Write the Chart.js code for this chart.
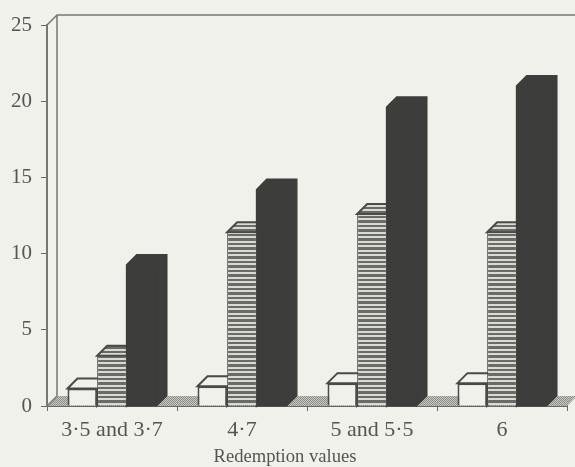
<!DOCTYPE html>
<html>
<head>
<meta charset="utf-8">
<script src="https://cdn.jsdelivr.net/npm/chart.js@4"></script>
<style>
    html, body { margin: 0; padding: 0; background: #eff1ea; }
    #wrap { width: 575px; height: 467px; }
</style>
</head>
<body>
<div id="wrap"><canvas id="chart"></canvas></div>
<script>
// Valores
const categories = ['3·5 and 3·7', '4·7', '5 and 5·5', '6'];
const whiteValues = [1.15, 1.3, 1.5, 1.5];
const stripedValues = [3.3, 11.4, 12.6, 11.4];
const darkValues = [9.25, 14.2, 19.6, 21.0];
const axisTitle = 'Redemption values';

const PAPER = '#eff1ea';
const INK = '#4a4a46';
const DARK = '#3d3d3b';
const TEXT = '#555551';
const DEPTH_X = 10;
const DEPTH_Y = 10;
const SERIF = '"Liberation Serif", serif';

function stripePattern() {
    const c = document.createElement('canvas');
    c.width = 4;
    c.height = 9;
    const g = c.getContext('2d');
    g.fillStyle = '#d9dad3';
    g.fillRect(0, 0, 4, 9);
    g.fillStyle = '#6a6a66';
    g.fillRect(0, 0, 4, 2);
    g.fillRect(0, 4, 4, 3);
    return g.createPattern(c, 'repeat');
}

function floorPattern() {
    const c = document.createElement('canvas');
    c.width = 2;
    c.height = 2;
    const g = c.getContext('2d');
    g.fillStyle = '#c6c7c0';
    g.fillRect(0, 0, 2, 2);
    g.fillStyle = '#8e8f8a';
    g.fillRect(0, 0, 1, 1);
    g.fillRect(1, 1, 1, 1);
    return g.createPattern(c, 'repeat');
}

// Pared de fondo, suelo y caras laterales de las barras
const depthPlugin = {
    id: 'depth',
    beforeDatasetsDraw(chart) {
        const { ctx, chartArea: a } = chart;
        ctx.save();

        ctx.fillStyle = floorPattern();
        ctx.beginPath();
        ctx.moveTo(a.left, a.bottom);
        ctx.lineTo(a.left + DEPTH_X, a.bottom - DEPTH_Y);
        ctx.lineTo(a.right + DEPTH_X, a.bottom - DEPTH_Y);
        ctx.lineTo(a.right, a.bottom);
        ctx.closePath();
        ctx.fill();

        ctx.strokeStyle = '#777772';
        ctx.lineWidth = 1.5;
        ctx.beginPath();
        ctx.moveTo(a.left, a.top);
        ctx.lineTo(a.left + DEPTH_X, a.top - DEPTH_Y);
        ctx.lineTo(a.right + DEPTH_X, a.top - DEPTH_Y);
        ctx.moveTo(a.left + DEPTH_X, a.top - DEPTH_Y);
        ctx.lineTo(a.left + DEPTH_X, a.bottom - DEPTH_Y);
        ctx.moveTo(a.left, a.bottom);
        ctx.lineTo(a.left + DEPTH_X, a.bottom - DEPTH_Y);
        ctx.stroke();

        chart.data.datasets.forEach((ds, i) => {
            chart.getDatasetMeta(i).data.forEach(bar => {
                const left = bar.x - bar.width / 2;
                const right = bar.x + bar.width / 2;
                ctx.beginPath();
                ctx.moveTo(left, bar.y);
                ctx.lineTo(left + DEPTH_X, bar.y - DEPTH_Y);
                ctx.lineTo(right + DEPTH_X, bar.y - DEPTH_Y);
                ctx.lineTo(right + DEPTH_X, bar.base - DEPTH_Y);
                ctx.lineTo(right, bar.base);
                if (i === 2) {
                    // la barra oscura es una silueta sólida
                    ctx.lineTo(left, bar.base);
                } else {
                    ctx.lineTo(right, bar.y);
                }
                ctx.closePath();
                ctx.fillStyle = i === 2 ? DARK : (i === 1 ? stripePattern() : PAPER);
                ctx.fill();
                ctx.strokeStyle = i === 2 ? DARK : INK;
                ctx.lineWidth = 2;
                ctx.stroke();
            });
        });
        ctx.restore();
    },
    // Título del eje, desplazado a la izquierda como en el original
    afterDraw(chart) {
        const { ctx, chartArea: a } = chart;
        ctx.save();
        ctx.font = '18.6px ' + SERIF;
        ctx.fillStyle = TEXT;
        ctx.textAlign = 'center';
        ctx.textBaseline = 'middle';
        ctx.fillText(axisTitle, (a.left + a.right) / 2 - 22, a.bottom + 51);
        ctx.restore();
    }
};

new Chart(document.getElementById('chart').getContext('2d'), {
    type: 'bar',
    plugins: [depthPlugin],
    data: {
        labels: categories,
        datasets: [
            { label: 'White', data: whiteValues, backgroundColor: PAPER, borderColor: INK, borderWidth: 2 },
            { label: 'Striped', data: stripedValues, backgroundColor: stripePattern(), borderColor: INK, borderWidth: 1 },
            { label: 'Dark', data: darkValues, backgroundColor: DARK, borderColor: DARK, borderWidth: 1 }
        ]
    },
    options: {
        responsive: true,
        maintainAspectRatio: false,
        animation: false,
        layout: { padding: { top: 25, right: 8, left: 0, bottom: 0 } },
        plugins: { legend: { display: false }, tooltip: { enabled: false } },
        datasets: { bar: { barPercentage: 1, categoryPercentage: 0.685 } },
        scales: {
            x: {
                afterFit(scale) { scale.height = 61; },
                grid: { drawOnChartArea: false, color: '#666662', tickLength: 5 },
                border: { color: '#666662', width: 2 },
                ticks: { color: TEXT, font: { family: SERIF, size: 22 }, padding: 6, maxRotation: 0 }
            },
            y: {
                min: 0,
                max: 25,
                afterFit(scale) { scale.width = 47; },
                grid: { drawOnChartArea: false, color: '#666662', tickLength: 6 },
                border: { color: '#777772', width: 2 },
                ticks: { stepSize: 5, color: TEXT, font: { family: SERIF, size: 21 }, padding: 9 }
            }
        }
    }
});
</script>
</body>
</html>
